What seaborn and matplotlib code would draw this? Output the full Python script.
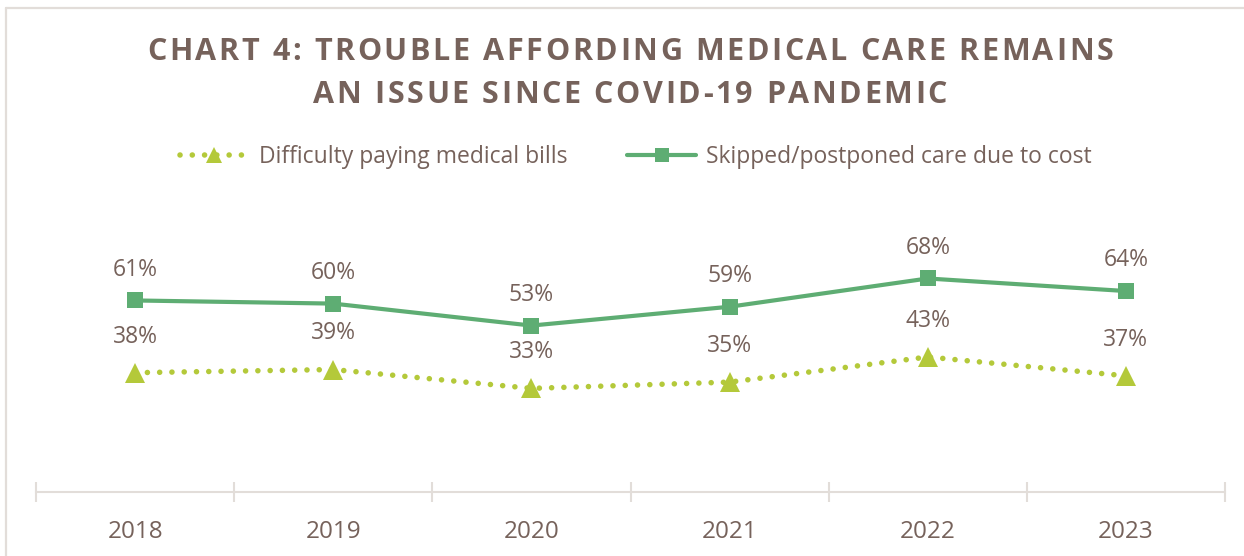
import matplotlib
matplotlib.use("Agg")
import matplotlib.pyplot as plt
import seaborn as sns
import pandas as pd
from matplotlib.lines import Line2D
from matplotlib.font_manager import FontProperties, findfont
from matplotlib.ft2font import FT2Font

# Survey results by year (percent of respondents)
years = ["2018", "2019", "2020", "2021", "2022", "2023"]
difficulty_paying = [38, 39, 33, 35, 43, 37]
skipped_care = [61, 60, 53, 59, 68, 64]
series_names = ["Difficulty paying medical bills",
                "Skipped/postponed care due to cost"]
title_lines = ["CHART 4: TROUBLE AFFORDING MEDICAL CARE REMAINS",
               "AN ISSUE SINCE COVID-19 PANDEMIC"]

TEXT = "#76625B"
GREEN = "#5EAD73"
LIME = "#B4C93A"
RULE = "#E2DDD9"

sns.set_theme(style="white")
plt.rcParams["font.family"] = ["Open Sans", "DejaVu Sans"]

W, H, DPI = 1244, 556, 100
fig = plt.figure(figsize=(W / DPI, H / DPI), dpi=DPI)
fig.patch.set_facecolor("white")

df = pd.DataFrame({
    "pos": range(len(years)),
    "year": years,
    "difficulty": difficulty_paying,
    "skipped": skipped_care,
})

ax = fig.add_axes([36 / W, 64 / H, 1189 / W, 314 / H])
ax.set_facecolor("none")

dot_style = (0, (0.01, 2.2))
sns.lineplot(data=df, x="pos", y="difficulty", ax=ax, color=LIME,
             linewidth=4.0, linestyle=dot_style, dash_capstyle="round",
             marker="^", markersize=15, markeredgewidth=0, zorder=3)
sns.lineplot(data=df, x="pos", y="skipped", ax=ax, color=GREEN,
             linewidth=3.0, marker="s", markersize=12, markeredgewidth=0,
             zorder=4)

# value labels
for x, v in zip(df["pos"], df["difficulty"]):
    ax.annotate(f"{v}%", (x, v), xytext=(0, 26), textcoords="offset points",
                ha="center", va="center", fontsize=16.5, color=TEXT)
for x, v in zip(df["pos"], df["skipped"]):
    ax.annotate(f"{v}%", (x, v), xytext=(0, 22), textcoords="offset points",
                ha="center", va="center", fontsize=16.5, color=TEXT)

ax.set_xlim(-0.5, len(years) - 0.5)
ax.set_ylim(0, 100)
ax.set_xlabel("")
ax.set_ylabel("")
ax.set_yticks([])
ax.set_xticks(range(len(years)))
ax.set_xticklabels(years, fontsize=17.5, color=TEXT)
ax.set_xticks([i - 0.5 for i in range(len(years) + 1)], minor=True)
ax.tick_params(axis="x", which="major", length=0, pad=20)
ax.tick_params(axis="x", which="minor", length=14, width=1.5,
               direction="inout", color=RULE, bottom=True)
for side in ["top", "left", "right"]:
    ax.spines[side].set_visible(False)
ax.spines["bottom"].set_color(RULE)
ax.spines["bottom"].set_linewidth(1.5)

# legend
handles = [
    Line2D([0], [0], color=LIME, linewidth=4.0, linestyle=dot_style,
           dash_capstyle="round", marker="^", markersize=12,
           markeredgewidth=0),
    Line2D([0], [0], color=GREEN, linewidth=3.0, marker="s",
           markersize=10, markeredgewidth=0),
]
leg = fig.legend(handles, series_names, loc="center",
                 bbox_to_anchor=(636 / W, 1 - 157 / H), ncol=2, frameon=False,
                 fontsize=16.5, handlelength=3.0, handletextpad=0.45,
                 columnspacing=2.6, labelcolor=TEXT)

# letter-spaced title, placed glyph by glyph
TITLE_SIZE = 22
title_fp = FontProperties(family="Open Sans", weight="bold",
                          size=TITLE_SIZE)
ft = FT2Font(findfont(title_fp))
ft.set_size(TITLE_SIZE, DPI)


def advances(s):
    return [ft.load_char(ord(c)).linearHoriAdvance / 65536 for c in s]


adv0 = advances(title_lines[0])
spacing = (966 - sum(adv0)) / (len(title_lines[0]) - 1)
for line, yc in zip(title_lines, [52, 95]):
    adv = advances(line)
    total = sum(adv) + spacing * (len(line) - 1)
    x = 630 - total / 2
    for ch, a in zip(line, adv):
        if ch != " ":
            fig.text(x / W, 1 - yc / H, ch, fontproperties=title_fp,
                     color=TEXT, ha="left", va="center")
        x += a + spacing

# frame lines along top and left edges
fig.add_artist(Line2D([6 / W, 1], [1 - 8 / H] * 2, color=RULE,
                      linewidth=1.6, transform=fig.transFigure))
fig.add_artist(Line2D([6 / W] * 2, [0, 1 - 8 / H], color=RULE,
                      linewidth=1.6, transform=fig.transFigure))

fig.savefig("out.png", dpi=DPI)
